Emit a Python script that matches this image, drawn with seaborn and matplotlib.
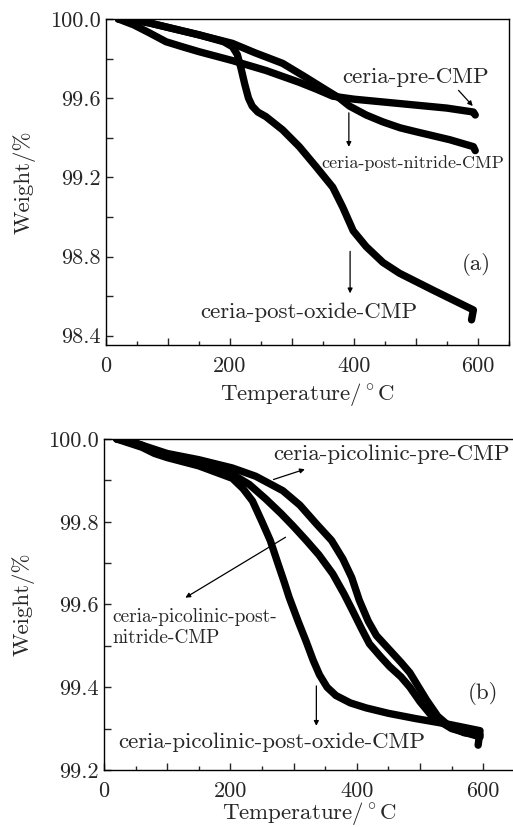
import pandas as pd
import matplotlib
matplotlib.use("Agg")
import matplotlib.pyplot as plt
import seaborn as sns
from matplotlib.ticker import MultipleLocator, FuncFormatter

# panel (a) TGA curves
pre_a_t = [20, 45, 70, 97, 123, 150, 204, 258, 312, 340, 366, 400, 450, 500, 550, 593, 596]
pre_a_w = [100.0, 99.97, 99.93, 99.885, 99.86, 99.835, 99.79, 99.74, 99.68, 99.645, 99.61, 99.595, 99.58,
           99.565, 99.55, 99.53, 99.515]
nit_a_t = [20, 45, 70, 110, 150, 204, 240, 285, 320, 356, 377, 393, 420, 447, 475, 501, 528, 555, 593, 596]
nit_a_w = [100.0, 99.995, 99.98, 99.95, 99.92, 99.877, 99.83, 99.776, 99.71, 99.64, 99.60, 99.56, 99.515,
           99.48, 99.45, 99.43, 99.41, 99.39, 99.355, 99.335]
oxi_a_t = [20, 45, 70, 110, 150, 190, 204, 212, 218, 224, 230, 236, 245, 258, 285, 312, 339, 366, 382, 399,
           420, 447, 474, 528, 593, 590]
oxi_a_w = [100.0, 99.995, 99.98, 99.95, 99.92, 99.885, 99.86, 99.82, 99.75, 99.67, 99.60, 99.56, 99.53,
           99.507, 99.44, 99.355, 99.254, 99.15, 99.05, 98.93, 98.85, 98.77, 98.715, 98.63, 98.53, 98.48]

# panel (b) TGA curves
pre_b_t = [20, 40, 60, 80, 100, 150, 203, 240, 283, 310, 336, 360, 378, 392, 404, 418, 431, 452, 470, 484,
           498, 510, 528, 547, 570, 595]
pre_b_w = [100.0, 99.995, 99.985, 99.975, 99.965, 99.95, 99.93, 99.91, 99.875, 99.84, 99.795, 99.755, 99.71,
           99.665, 99.61, 99.56, 99.525, 99.49, 99.46, 99.435, 99.40, 99.37, 99.33, 99.305, 99.29, 99.285]
nit_b_t = [20, 40, 60, 80, 100, 150, 203, 230, 256, 280, 299, 320, 340, 362, 380, 394, 408, 420, 437, 452,
           470, 484, 500, 520, 550, 595]
nit_b_w = [100.0, 99.995, 99.985, 99.97, 99.96, 99.94, 99.915, 99.89, 99.855, 99.82, 99.79, 99.755, 99.72,
           99.674, 99.625, 99.583, 99.54, 99.505, 99.475, 99.45, 99.425, 99.40, 99.365, 99.328, 99.30, 99.28]
oxi_b_t = [20, 40, 60, 80, 100, 150, 203, 220, 235, 250, 263, 275, 285, 293, 307, 320, 331, 341, 353, 367,
           390, 415, 450, 494, 547, 595, 592]
oxi_b_w = [100.0, 99.99, 99.98, 99.965, 99.955, 99.935, 99.905, 99.88, 99.85, 99.80, 99.755, 99.70, 99.655,
           99.617, 99.56, 99.51, 99.465, 99.43, 99.40, 99.38, 99.362, 99.35, 99.337, 99.324, 99.31, 99.295, 99.26]

sns.set_style("ticks")
plt.rcParams['font.family'] = ['cmr10', 'DejaVu Serif']
plt.rcParams['mathtext.fontset'] = 'cm'
plt.rcParams['axes.formatter.use_mathtext'] = True
plt.rcParams['axes.unicode_minus'] = False

fig = plt.figure(figsize=(5.13, 8.27), dpi=100)
ax1 = fig.add_axes([106 / 513, 1 - 345 / 827, 402.7 / 513, 326 / 827])
ax2 = fig.add_axes([104 / 513, 1 - 770 / 827, 410.8 / 513, 331 / 827])

def draw(ax, curves):
    for t, w in curves:
        df = pd.DataFrame({"T": t, "W": w})
        sns.lineplot(data=df, x="T", y="W", ax=ax, sort=False, color="black", lw=5.3,
                     solid_capstyle="round", solid_joinstyle="round")

draw(ax1, [(pre_a_t, pre_a_w), (nit_a_t, nit_a_w), (oxi_a_t, oxi_a_w)])
draw(ax2, [(pre_b_t, pre_b_w), (nit_b_t, nit_b_w), (oxi_b_t, oxi_b_w)])

fs = 16
for ax, ylo, ystep, ylab_step in [(ax1, 98.353, 0.2, 0.4), (ax2, 99.2, 0.1, 0.2)]:
    ax.set_xlim(0, 650)
    ax.set_ylim(ylo, 100.0)
    ax.xaxis.set_major_locator(MultipleLocator(100))
    ax.xaxis.set_minor_locator(MultipleLocator(50))
    ax.xaxis.set_major_formatter(FuncFormatter(lambda v, p: f"{v:.0f}" if round(v) % 200 == 0 else ""))
    ax.yaxis.set_major_locator(MultipleLocator(ystep))
    ax.yaxis.set_major_formatter(FuncFormatter(
        lambda v, p, s=ylab_step: f"{v:.1f}" if abs(((100.0 - v) / s) - round((100.0 - v) / s)) < 1e-3 else ""))
    ax.tick_params(which="major", direction="in", length=5, width=1, labelsize=fs, top=False, right=False)
    ax.tick_params(axis="x", which="major", pad=8)
    ax.tick_params(axis="y", which="major", pad=4)
    ax.tick_params(which="minor", direction="in", length=3, width=1, top=False, right=False)
    ax.tick_params(axis="y", which="minor", left=False)
    ax.set_xlabel("Temperature/$^\\circ$C", fontsize=16.5)
    ax.set_ylabel("Weight/%", fontsize=16.5)
    for s in ax.spines.values():
        s.set_linewidth(1.0)
        s.set_color("black")
    ax.grid(False)

ax1.xaxis.set_label_coords(0.5, -0.11)
ax1.yaxis.set_label_coords(-0.176, 0.5)
ax2.xaxis.set_label_coords(0.5, -0.092)
ax2.yaxis.set_label_coords(-0.17, 0.5)

ap = dict(arrowstyle="-|>", color="black", lw=0.9, mutation_scale=7)
fa = 16.5
# annotations (a)
ax1.text(500, 99.707, "ceria-pre-CMP", ha="center", va="center", fontsize=fa)
ax1.annotate("", xy=(595, 99.55), xytext=(566, 99.65), arrowprops=ap)
ax1.text(495, 99.27, "ceria-post-nitride-CMP", ha="center", va="center", fontsize=13)
ax1.annotate("", xy=(392, 99.34), xytext=(392, 99.54), arrowprops=ap)
ax1.text(328, 98.52, "ceria-post-oxide-CMP", ha="center", va="center", fontsize=fa)
ax1.annotate("", xy=(394, 98.60), xytext=(394, 98.84), arrowprops=ap)
ax1.text(597, 98.76, "(a)", ha="center", va="center", fontsize=fa)

# annotations (b)
ax2.text(455, 99.962, "ceria-picolinic-pre-CMP", ha="center", va="center", fontsize=fa)
ax2.annotate("", xy=(322, 99.929), xytext=(264, 99.90), arrowprops=ap)
ax2.text(14, 99.545, "ceria-picolinic-post-\nnitride-CMP", ha="left", va="center", fontsize=14,
         linespacing=1.2)
ax2.annotate("", xy=(125, 99.613), xytext=(291, 99.766), arrowprops=ap)
ax2.text(265, 99.267, "ceria-picolinic-post-oxide-CMP", ha="center", va="center", fontsize=fa)
ax2.annotate("", xy=(336, 99.30), xytext=(336, 99.41), arrowprops=ap)
ax2.text(600, 99.386, "(b)", ha="center", va="center", fontsize=fa)

plt.savefig("out.png", dpi=100)
